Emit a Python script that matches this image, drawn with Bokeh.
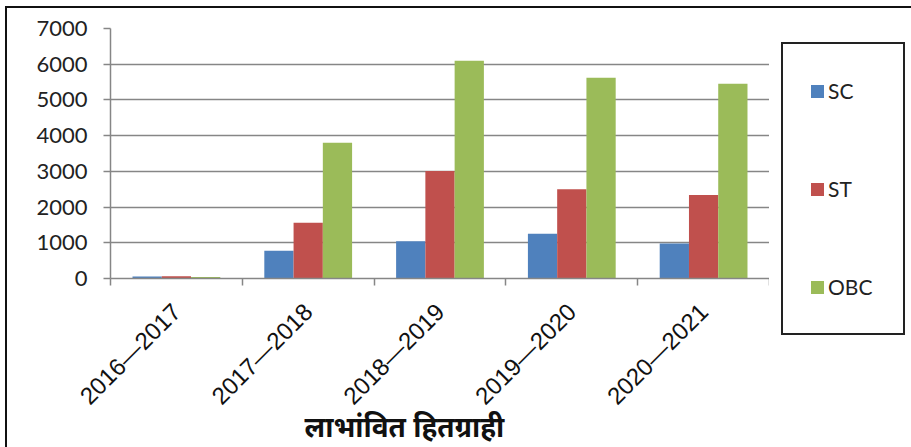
from bokeh.plotting import figure
from bokeh.layouts import row
from bokeh.models import FixedTicker, Range1d, LinearAxis, ColumnDataSource, Div
from bokeh.embed import file_html
from bokeh.resources import INLINE
import numpy as np

# Beneficiaries per year, by category
years = ["2016\u20142017", "2017\u20142018", "2018\u20142019", "2019\u20142020", "2020\u20142021"]
sc = [55, 780, 1040, 1250, 980]
st = [65, 1560, 3010, 2500, 2340]
obc = [45, 3800, 6100, 5620, 5450]
y_ticks = [0, 1000, 2000, 3000, 4000, 5000, 6000, 7000]
axis_title = "लाभांवित हितग्राही"

series = [("SC", sc, "#4F81BD"), ("ST", st, "#C0504D"), ("OBC", obc, "#9BBB59")]

H = 439          # canvas height inside the border
W_MAIN = 762     # bar chart part
W_LEG = 142      # legend part

p = figure(width=W_MAIN, height=H, output_backend="svg", toolbar_location=None,
           x_range=Range1d(0, len(years)), y_range=Range1d(0, 7000),
           min_border_left=103, min_border_right=0,
           min_border_top=20, min_border_bottom=169)
p.outline_line_color = None
p.background_fill_color = "white"
p.border_fill_color = "white"

centers = np.arange(len(years)) + 0.5
bar_w = 0.222
for k, (name, vals, color) in enumerate(series):
    src = ColumnDataSource(dict(x=centers + (k - 1) * bar_w, top=vals))
    p.vbar(x="x", top="top", width=bar_w, bottom=0, source=src,
           fill_color=color, line_color=None)

# x axis: labels at group centres, tick marks at group boundaries
xa = p.xaxis[0]
xa.ticker = FixedTicker(ticks=list(centers), minor_ticks=list(range(len(years) + 1)))
xa.major_label_overrides = {float(c): y for c, y in zip(centers, years)}
xa.major_tick_line_color = None
xa.minor_tick_line_color = "#868686"
xa.minor_tick_in = 0
xa.minor_tick_out = 7
xa.minor_tick_line_width = 1.5
xa.axis_line_color = "#868686"
xa.axis_line_width = 1.5
xa.major_label_orientation = np.pi / 4
xa.major_label_standoff = 22
xa.major_label_text_font = "Liberation Sans"
xa.major_label_text_font_size = "24px"
xa.major_label_text_color = "#111111"

# category axis title, set a little left of the plot centre
title_pos = 2.23
title_axis = LinearAxis(ticker=FixedTicker(ticks=[title_pos], minor_ticks=[]),
                        major_label_overrides={title_pos: axis_title},
                        axis_line_color=None, major_tick_line_color=None,
                        minor_tick_line_color=None, major_tick_out=0,
                        major_label_standoff=-16,
                        major_label_text_font="Noto Sans",
                        major_label_text_font_style="bold",
                        major_label_text_font_size="28px",
                        major_label_text_color="#111111")
p.add_layout(title_axis, "below")

ya = p.yaxis[0]
ya.ticker = FixedTicker(ticks=y_ticks)
ya.minor_tick_line_color = None
ya.major_tick_in = 0
ya.major_tick_out = 7
ya.major_tick_line_color = "#868686"
ya.major_tick_line_width = 1.5
ya.axis_line_color = "#868686"
ya.axis_line_width = 1.5
ya.major_label_standoff = 16
ya.major_label_text_font = "Lato"
ya.major_label_text_font_size = "22px"
ya.major_label_text_color = "#222222"

p.xgrid.grid_line_color = None
p.ygrid.ticker = FixedTicker(ticks=y_ticks)
p.ygrid.grid_line_color = "#868686"
p.ygrid.grid_line_width = 1.5

# legend box beside the chart
entries = "".join(
    f'<div style="position:absolute;left:37px;top:{63 + 98 * k}px;height:30px;'
    f'display:flex;align-items:center;font-family:Lato;font-size:21px;color:#222222;">'
    f'<span style="display:inline-block;width:13px;height:13px;background:{color};'
    f'margin-right:4px;"></span>{name}</div>'
    for k, (name, _, color) in enumerate(series))
legend_html = (
    f'<div style="position:relative;width:{W_LEG}px;height:{H}px;background:white;">'
    '<div style="position:absolute;left:7px;top:29px;width:124px;height:293px;'
    'box-sizing:border-box;border:2px solid #222222;"></div>'
    f'{entries}</div>')
legend_box = Div(text=legend_html, width=W_LEG, height=H)

chart = row(p, legend_box, spacing=0)
chart.styles = {"margin-left": "5px", "margin-top": "6px",
                "border-left": "2px solid #111111", "border-top": "2px solid #111111"}

open("out.html", "w").write(file_html(chart, INLINE))
